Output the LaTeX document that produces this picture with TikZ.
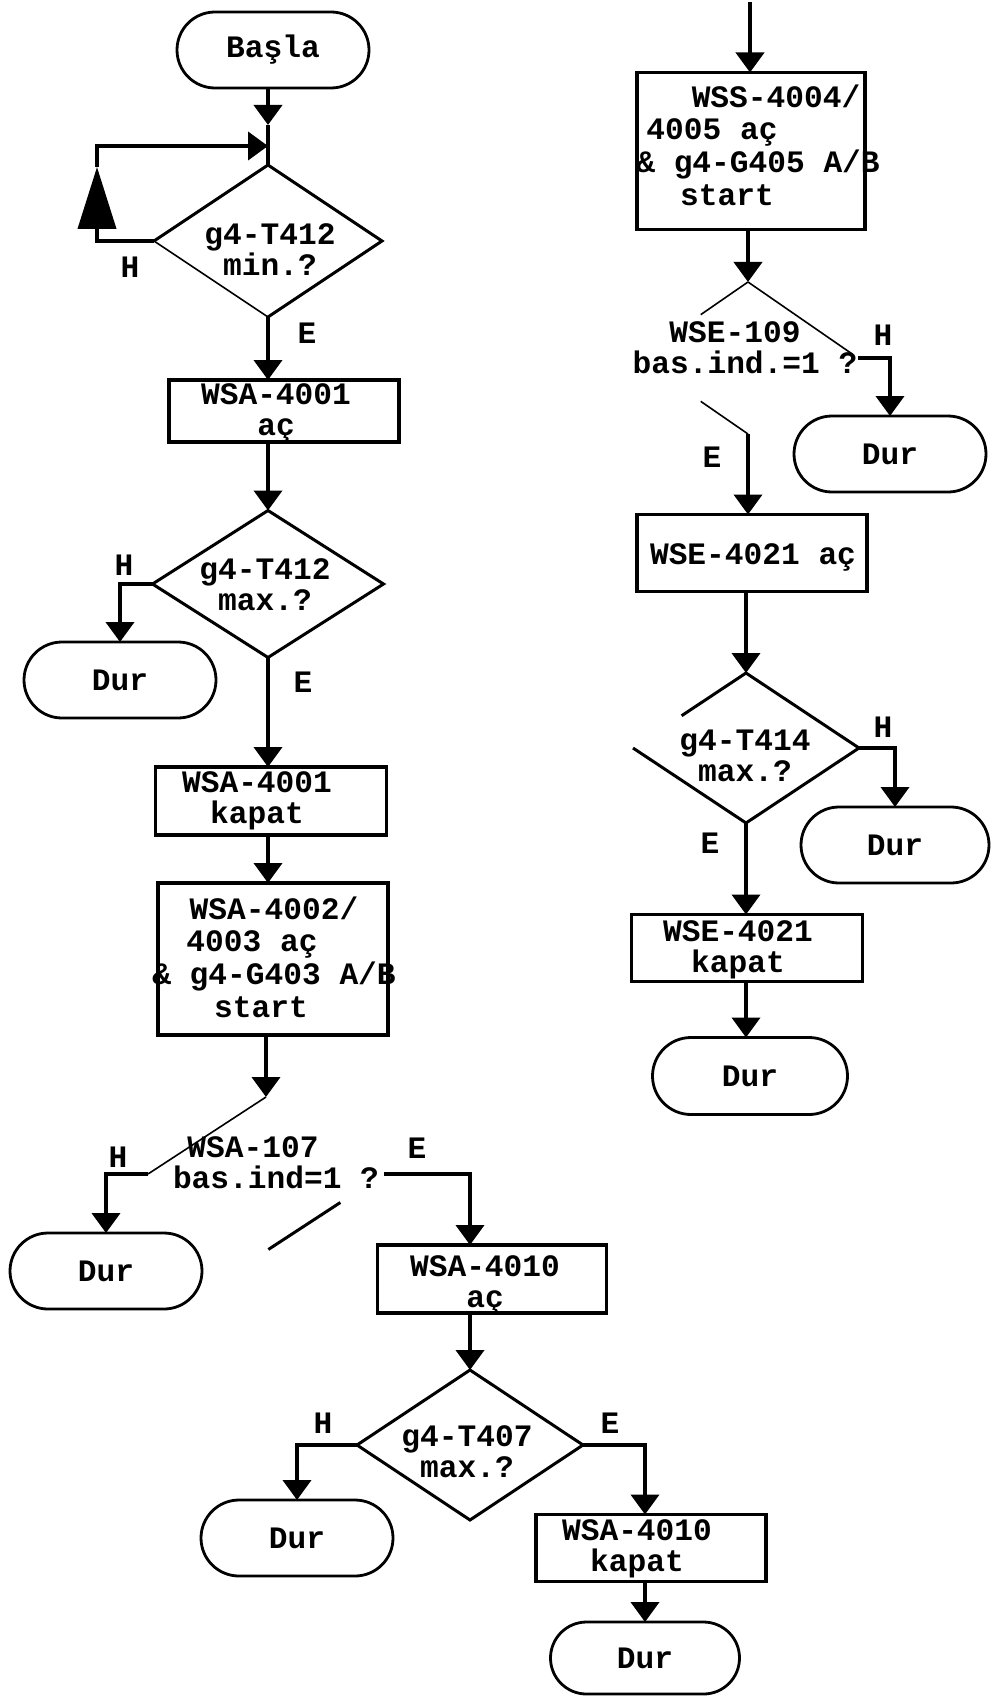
\documentclass[tikz,border=0pt]{standalone}
\usepackage{fontspec}
\newfontfamily\courfont{Liberation Mono}
\usetikzlibrary{shapes.geometric,shapes.misc,arrows.meta,calc}
\begin{document}
\begin{tikzpicture}[x=0.5pt,y=-0.5pt,
  every node/.style={font={\courfont\bfseries\fontsize{15.6pt}{15.5pt}\selectfont},inner sep=0pt,outer sep=0pt},
  term/.style={rounded rectangle,draw,line width=1.4pt,minimum width=96pt,minimum height=38pt},
  box/.style={rectangle,draw,line width=1.8pt,minimum width=115pt},
  dia/.style={diamond,draw,line width=1.5pt},
  ghost/.style={diamond,draw=none},
  txt/.style={align=center},
  txtf/.style={align=center,font={\courfont\bfseries\fontsize{15.6pt}{16.3pt}\selectfont}},
  wire/.style={line width=2pt},
  conn/.style={line width=2pt,-{Triangle[width=14pt,length=10pt]}},
  frag/.style={line width=0.8pt},
  fragb/.style={line width=1.5pt}
]
\fill[white] (0,0) rectangle (990,1696);
\useasboundingbox (0,0) rectangle (990,1696);

% ---------- left column ----------
\node[term] (basla) at (273,50) {Başla};
\node[ghost,minimum width=114pt,minimum height=76pt] (d1) at (268,241) {};
\node[txt] (d1t) at (270,250) {g4-T412\\min.?};
\node (h1) at (130,267) {H};
\node (e1) at (307,333) {E};
\node[box,minimum height=31pt] (b2) at (284,411) {};
\node[txt] (b2t) at (276,413) {WSA-4001\\aç};
\node[dia,minimum width=115.5pt,minimum height=73.5pt] (d2) at (268,584) {};
\node[txt] (d2t) at (265,585) {g4-T412\\max.?};
\node (h2) at (124,565) {H};
\node (e2) at (303,682) {E};
\node[term] (dur1) at (120,680) {Dur};
\node[box,minimum height=34pt,minimum width=115.5pt] (b3) at (271,801) {};
\node[txt] (b3t) at (257,801) {WSA-4001\\kapat};
\node[box,minimum height=76pt] (b4) at (273,959) {};
\node[txtf] (b4t) at (274,957) {WSA-4002/\\4003 aç\rule{22pt}{0pt}\\\& g4-G403 A/B\\start\rule{13pt}{0pt}};
\node[ghost,minimum width=118pt,minimum height=77pt] (d3) at (266,1174) {};
\node[txt] (d3t) at (276,1163) {WSA-107\rule{23pt}{0pt}\\bas.ind=1 ?};
\node (h3) at (118,1157) {H};
\node (e3) at (417,1148) {E};
\node[term] (dur2) at (106,1271) {Dur};
\node[box,minimum height=34pt,minimum width=114.5pt] (b5) at (492,1279) {};
\node[txt] (b5t) at (485,1285) {WSA-4010\\aç};
\node[dia,minimum width=113pt,minimum height=75pt] (d4) at (470,1445) {};
\node[txt] (d4t) at (467,1452) {g4-T407\\max.?};
\node (h4) at (323,1423) {H};
\node (e4) at (610,1423) {E};
\node[term] (dur3) at (297,1538) {Dur};
\node[box,minimum height=33.5pt] (b6) at (651,1548) {};
\node[txt] (b6t) at (637,1549) {WSA-4010\\kapat};
\node[term,minimum width=94.5pt,minimum height=36pt] (dur4) at (645,1658) {Dur};

% ---------- right column ----------
\coordinate (rtop) at (750,2);
\node[box,minimum height=78.5pt,minimum width=114pt] (wss) at (751,151) {};
\node[txtf] (wsst) at (758,145) {\rule{18pt}{0pt}WSS-4004/\\4005 aç\rule{46pt}{0pt}\\\& g4-G405 A/B\\start\rule{31pt}{0pt}};
\node[ghost,minimum width=110pt,minimum height=76pt] (d5) at (748,358) {};
\node[txt] (d5t) at (745,348) {WSE-109\rule{10pt}{0pt}\\bas.ind.=1 ?};
\node (h5) at (883,335) {H};
\node (e5) at (712,457) {E};
\node[term] (dur5) at (890,454) {Dur};
\node[box,minimum height=38.5pt] (b7) at (752,553) {};
\node (b7t) at (753,557) {WSE-4021 aç};
\node[ghost,minimum width=113pt,minimum height=75pt] (d6) at (746,748) {};
\node[txt] (d6t) at (745,756) {g4-T414\\max.?};
\node (h6) at (883,727) {H};
\node (e6) at (710,843) {E};
\node[term,minimum width=94pt] (dur6) at (895,845) {Dur};
\node[box,minimum height=33.5pt,minimum width=115.5pt] (b8) at (747,948) {};
\node[txt] (b8t) at (738,950) {WSE-4021\\kapat};
\node[term,minimum width=97.5pt,minimum height=38.5pt] (dur7) at (750,1076) {Dur};

% ---------- diamond outlines drawn edge by edge ----------
\draw[fragb,line join=miter] (d1.west) -- (d1.north) -- (d1.east) -- (d1.south);
\draw[frag] (d1.south) -- (d1.west);
\draw[frag] (d3.north) -- (d3.west);
\draw[fragb] ($(d3.east)!0.37!(d3.south)$) -- ($(d3.east)!0.98!(d3.south)$);
\draw[frag] (d5.north) -- ($(d5.north)!0.43!(d5.west)$);
\draw[frag] (d5.north) -- ($(d5.north)!0.95!(d5.east)$);
\draw[frag] ($(d5.west)!0.57!(d5.south)$) -- (d5.south);
\draw[fragb] ($(d6.north)!0.57!(d6.west)$) -- (d6.north) -- (d6.east) -- (d6.south) -- (d6.west);

% ---------- connectors left ----------
\coordinate (a1) at (268,125);
\coordinate (j1) at (268,146);
\coordinate (l1) at (97,241);
\coordinate (l2) at (97,167);
\coordinate (l3) at (97,146);
\draw[conn] (basla.south -| a1) -- (a1);
\draw[wire] (a1) -- (d1.north);
\draw[wire,-{Triangle[width=19pt,length=31pt]}] (d1.west) -- (l1) -- (l2);
\draw[conn] (l2) -- (l3) -- (j1);
\draw[conn] (d1.south) -- (d1.south |- b2.north);
\draw[conn] (b2.south -| d2.north) -- (d2.north);
\draw[conn] (d2.west) -| (dur1.north);
\draw[conn] (d2.south) -- (d2.south |- b3.north);
\draw[conn] (b3.south -| d2.south) -- (d2.south |- b4.north);
\draw[conn] (b4.south -| d3.north) -- (d3.north);
\draw[conn] (d3.west) -| (dur2.north);
\draw[conn] (d3.east) -| (b5.north -| d4.north);
\draw[conn] (b5.south -| d4.north) -- (d4.north);
\draw[conn] (d4.west) -| (dur3.north);
\draw[conn] (d4.east) -| (b6.north -| dur4.north);
\draw[conn] (b6.south -| dur4.north) -- (dur4.north);

% ---------- connectors right ----------
\draw[conn] (rtop) -- (rtop |- wss.north);
\draw[conn] (wss.south -| d5.north) -- (d5.north);
\draw[conn] (d5.east) -| (dur5.north);
\draw[conn] (d5.south) -- (d5.south |- b7.north);
\draw[conn] (b7.south -| d6.north) -- (d6.north);
\draw[conn] (d6.east) -| (dur6.north);
\draw[conn] (d6.south) -- (d6.south |- b8.north);
\draw[conn] (b8.south -| d6.south) -- (d6.south |- dur7.north);
\end{tikzpicture}
\end{document}
